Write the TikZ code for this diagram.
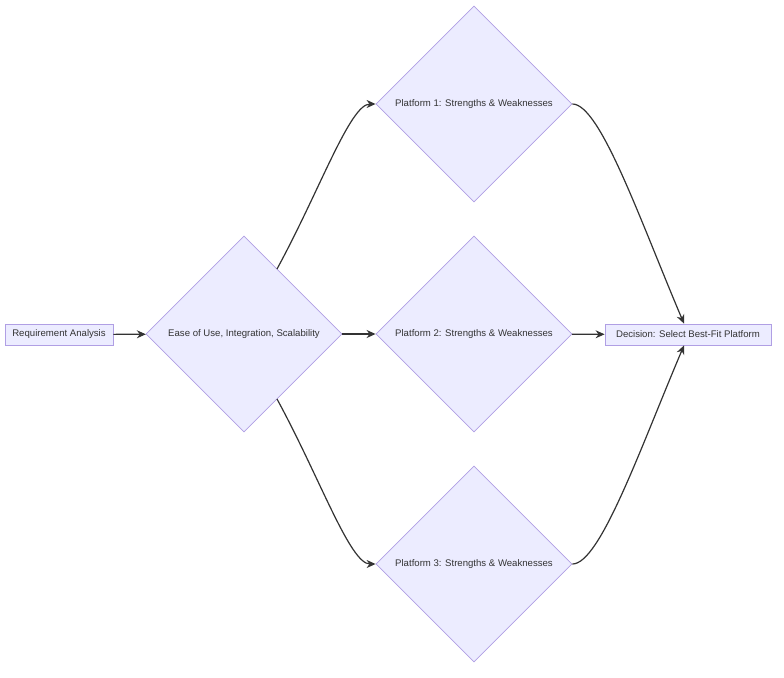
\documentclass[tikz,border=0pt]{standalone}
\usepackage{fontspec}
\setmainfont{Liberation Sans}
\usetikzlibrary{shapes.geometric,arrows.meta}
\definecolor{nfill}{HTML}{ECECFF}
\definecolor{nline}{HTML}{B09FE4}
\definecolor{eline}{HTML}{333333}
\begin{document}
\begin{tikzpicture}[x=1pt,y=-1pt,
  box/.style={draw=nline,fill=nfill,line width=0.8pt,text=eline,font=\fontsize{9.6}{11}\selectfont,minimum width=108pt,minimum height=21pt,inner sep=2pt},
  dia/.style={draw=nline,fill=nfill,line width=0.8pt,text=eline,diamond,aspect=1,inner sep=0pt,minimum width=196pt,minimum height=196pt,font=\fontsize{9.6}{11}\selectfont},
  edge/.style={draw=eline,line width=1.2pt,-{Stealth[length=9pt,width=8pt]}}]
\useasboundingbox (0,0) rectangle (784,677);
\node[box] (req) at (59,334.5) {Requirement Analysis};
\node[dia] (crit) at (244,334) {Ease of Use, Integration, Scalability};
\node[dia] (p1) at (474,104) {Platform 1: Strengths \& Weaknesses};
\node[dia] (p2) at (474,334) {Platform 2: Strengths \& Weaknesses};
\node[dia] (p3) at (474,564) {Platform 3: Strengths \& Weaknesses};
\node[box,minimum width=166pt] (dec) at (688,334.5) {Decision: Select Best-Fit Platform};
\coordinate (c1) at (277,269);
\coordinate (c3) at (277,399);
\draw[edge] (req) -- (crit);
\draw[edge] (crit) -- (p2);
\draw[edge] (p2) -- (dec);
\draw[edge] (c1) .. controls (320,190) and (350,104) .. (p1.west);
\draw[edge] (c3) .. controls (320,478) and (350,564) .. (p3.west);
\draw[edge] (p1.east) .. controls (600,104) and (640,220) .. ([xshift=-4pt]dec.north);
\draw[edge] (p3.east) .. controls (600,564) and (640,449) .. ([xshift=-4pt]dec.south);
\end{tikzpicture}
\end{document}
